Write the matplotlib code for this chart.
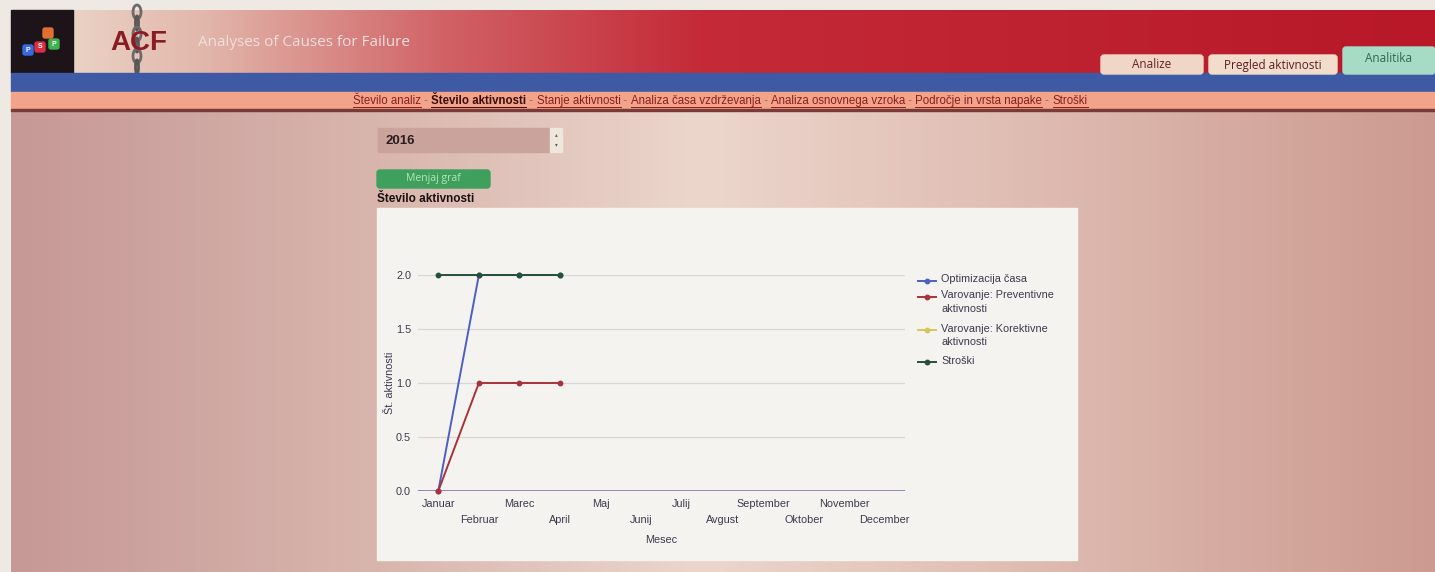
import numpy as np
import matplotlib
matplotlib.use("Agg")
import matplotlib.pyplot as plt
from matplotlib.patches import Rectangle, FancyBboxPatch, Ellipse

# ---------------- data ----------------
months = ["Januar", "Februar", "Marec", "April", "Maj", "Junij", "Julij",
          "Avgust", "September", "Oktober", "November", "December"]
series_names = ["Optimizacija časa", "Varovanje: Preventivne\naktivnosti",
                "Varovanje: Korektivne\naktivnosti", "Stroški"]
optimizacija = [0, 2, 2, 2]
preventivne = [0, 1, 1, 1]
korektivne = [None, None, None, None]
stroski = [2, 2, 2, 2]
y_ticks = [0.0, 0.5, 1.0, 1.5, 2.0]
year = "2016"
nav_links = ["Število analiz", "Število aktivnosti", "Stanje aktivnosti",
             "Analiza časa vzdrževanja", "Analiza osnovnega vzroka",
             "Področje in vrsta napake", "Stroški"]
tabs = ["Analize", "Pregled aktivnosti", "Analitika"]

series_values = [optimizacija, preventivne, korektivne, stroski]
series_colors = ["#4b5fc4", "#a8323c", "#d6c65a", "#25503a"]

FONT = "Liberation Sans"
CFS = 7.8  # chart font size
W, H = 1435, 572
fig = plt.figure(figsize=(W / 100, H / 100), dpi=100)
bg = fig.add_axes([0, 0, 1, 1], zorder=0)
bg.set_xlim(0, W)
bg.set_ylim(H, 0)
bg.axis("off")


def grad(x0, x1, stops):
    xs = np.arange(x0, x1)
    px = [s[0] for s in stops]
    cols = np.array([s[1] for s in stops], dtype=float) / 255.0
    img = np.stack([np.interp(xs, px, cols[:, c]) for c in range(3)], axis=-1)
    return img[np.newaxis, :, :]


# page base
bg.add_patch(Rectangle((0, 0), W, H, color="#efe9e4", zorder=0))
# body gradient
body = grad(11, W, [(11, (198, 152, 150)), (380, (216, 182, 174)),
                    (700, (236, 214, 204)), (1000, (224, 190, 180)),
                    (W, (204, 154, 144))])
bg.imshow(body, extent=(11, W, H, 110), aspect="auto", zorder=1)
# header gradient
head = grad(73, W, [(73, (234, 210, 196)), (200, (226, 184, 172)),
                    (450, (208, 96, 100)), (700, (196, 42, 56)),
                    (W, (184, 24, 40))])
bg.imshow(head, extent=(73, W, 73, 10), aspect="auto", zorder=1)

# logo box
bg.add_patch(Rectangle((11, 10), 62, 63, color="#1c1418", zorder=2))
for (cx, cy, col, letter) in [(28, 50, "#3a6ae0", "P"), (40, 47, "#d83040", "S"),
                               (54, 44, "#40b050", "P"), (48, 33, "#e07030", "")]:
    bg.add_patch(FancyBboxPatch((cx - 5, cy - 5), 10, 10,
                                boxstyle="round,pad=0,rounding_size=2",
                                color=col, zorder=3))
    if letter:
        bg.text(cx, cy, letter, fontsize=5, color="white", ha="center",
                va="center", family=FONT, fontweight="bold", zorder=4)

# chain behind ACF
for i, cy in enumerate(range(12, 78, 11)):
    if i % 2 == 0:
        e = Ellipse((137, cy), 8, 14, fill=False, ec="#6e6a6a", lw=2.0, zorder=2)
    else:
        e = Ellipse((137, cy), 3, 14, fill=False, ec="#5a5656", lw=2.0, zorder=2)
    bg.add_patch(e)
bg.text(110, 43, "ACF", fontsize=20, fontweight="bold", color="#8a1c26",
        va="center", ha="left", family=FONT, zorder=3)
bg.text(198, 43, "Analyses of Causes for Failure", fontsize=11,
        color="#f0dede", va="center", ha="left", family="Open Sans", zorder=3)

# tabs
tab_boxes = [(1101, 55, 102, 19, "#efd6c6", "#6a2020", 65),
             (1209, 55, 128, 19, "#f2dccc", "#5a1e1e", 65),
             (1343, 47, 92, 27, "#a6dcc6", "#2c6a4c", 58)]
for name, (x, y, w, h, fc, tc, ty) in zip(tabs, tab_boxes):
    bg.add_patch(FancyBboxPatch((x, y), w, h,
                                boxstyle="round,pad=0,rounding_size=3",
                                color=fc, zorder=3))
    bg.text(x + w / 2, ty, name, fontsize=8.5, color=tc, ha="center",
            va="center", family="Open Sans", zorder=4)

# bands
bg.add_patch(Rectangle((11, 73), W - 11, 19, color="#3f5aa5", zorder=2))
bg.add_patch(Rectangle((11, 92), W - 11, 17, color="#f2a48a", zorder=2))
bg.add_patch(Rectangle((11, 109), W - 11, 2, color="#7a3a38", zorder=2))

# nav links
fig.canvas.draw()
renderer = fig.canvas.get_renderer()
inv = bg.transData.inverted()
pieces = []
for i, lk in enumerate(nav_links):
    if i > 0:
        pieces.append((" - ", "sep"))
    pieces.append((lk, "active" if i == 1 else "link"))
x = 353
nav_y = 101
for txt, kind in pieces:
    col = {"sep": "#b85a5a", "active": "#3a0c0c", "link": "#8c1e1e"}[kind]
    wt = "bold" if kind == "active" else "normal"
    t = bg.text(x, nav_y, txt, fontsize=8.3, color=col, fontweight=wt,
                family=FONT, va="center", ha="left", zorder=4)
    ext = t.get_window_extent(renderer)
    (x0, _), (x1, _) = inv.transform([[ext.x0, ext.y0], [ext.x1, ext.y1]])
    if kind != "sep":
        bg.plot([x0, x1], [nav_y + 5.5, nav_y + 5.5], color=col, lw=0.7, zorder=4)
    x = x1

# year input
bg.add_patch(Rectangle((378, 128), 172, 24, color="#c9a39c", zorder=3))
bg.text(385, 140.5, year, fontsize=9.5, fontweight="bold", color="#2a1e1e",
        family=FONT, va="center", ha="left", zorder=4)
bg.add_patch(Rectangle((550, 128), 12, 24, color="#efe6de", zorder=3))
bg.text(556, 135, "▴", fontsize=4, color="#606060", ha="center", va="center", zorder=4)
bg.text(556, 145, "▾", fontsize=4, color="#606060", ha="center", va="center", zorder=4)

# button
bg.add_patch(FancyBboxPatch((377, 170), 113, 18,
                            boxstyle="round,pad=0,rounding_size=3",
                            color="#3f9f5c", zorder=3))
bg.text(433, 179, "Menjaj graf", fontsize=7.5, color="#b5e6bd", ha="center",
        va="center", family="Open Sans", zorder=4)
bg.text(377, 199, "Število aktivnosti", fontsize=8.5, fontweight="bold",
        color="#1a1010", ha="left", va="center", family=FONT, zorder=4)

# chart panel
bg.add_patch(Rectangle((377, 208), 700, 352, color="#f5f3ef", zorder=3))

# ---------------- chart ----------------
L, R, T, B = 418, 905, 275, 491
ax = fig.add_axes([L / W, 1 - B / H, (R - L) / W, (B - T) / H], zorder=2)
ax.set_facecolor("none")
ax.set_xlim(-0.5, len(months) - 0.5)
ax.set_ylim(0, 2.0)
for s in ax.spines.values():
    s.set_visible(False)
ax.set_yticks(y_ticks)
ax.set_yticklabels([f"{v:.1f}" for v in y_ticks])
for v in y_ticks[1:]:
    ax.axhline(v, color="#d9d7d5", lw=0.9, zorder=1)
ax.axhline(0, color="#7868a6", lw=1.1, zorder=1)

ax.set_xticks(range(len(months)))
ax.set_xticklabels(months)
ax.tick_params(axis="both", length=0, labelsize=CFS, labelcolor="#3a3a50")
for lab in ax.get_xticklabels() + ax.get_yticklabels():
    lab.set_family(FONT)
ax.tick_params(axis="y", pad=5)
for i, tk in enumerate(ax.xaxis.get_major_ticks()):
    tk.set_pad(6 if i % 2 == 0 else 17)

ax.set_xlabel("Mesec", fontsize=CFS, color="#3a3a50", family=FONT)
ax.set_ylabel("Št. aktivnosti", fontsize=CFS, color="#3a3a50", family=FONT)
ax.yaxis.set_label_coords(-(L - 395) / (R - L), 0.5)
ax.xaxis.set_label_coords(0.5, -(535 - B) / (B - T))

for vals, col in zip(series_values, series_colors):
    xs = np.arange(len(vals))
    ys = np.array([np.nan if v is None else v for v in vals], dtype=float)
    ax.plot(xs, ys, color=col, lw=1.4, marker="o", markersize=3.2,
            clip_on=False, zorder=3)

# legend
leg_y = [281, 297, 330, 362]
for name, col, yy in zip(series_names, series_colors, leg_y):
    bg.plot([918, 936], [yy, yy], color=col, lw=1.4, zorder=5)
    bg.plot([927], [yy], marker="o", markersize=3.2, color=col, zorder=5)
    bg.text(941, yy - 6.5, name, fontsize=CFS, color="#3a3a50", family=FONT,
            ha="left", va="top", linespacing=1.4, zorder=5)

fig.savefig("out.png", dpi=100)
